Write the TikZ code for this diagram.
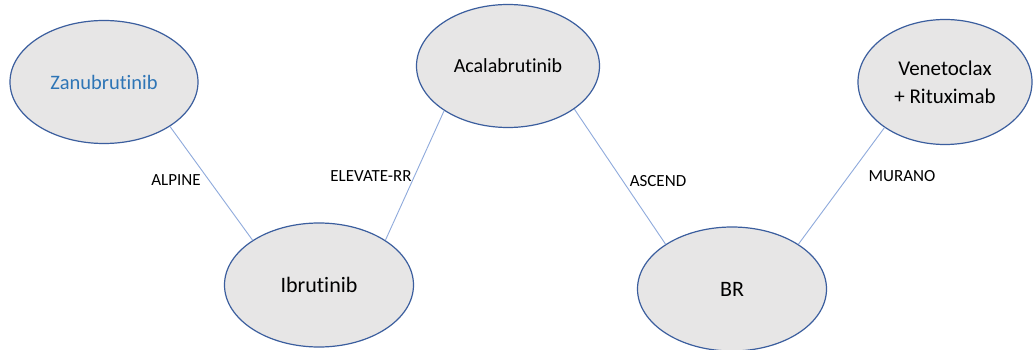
\documentclass[tikz,border=0pt]{standalone}
\usepackage{fontspec}
\setmainfont[Ligatures={NoCommon}]{Carlito}
\usetikzlibrary{shapes.geometric}
\definecolor{nodefill}{HTML}{E7E6E6}
\definecolor{nodeline}{HTML}{3B5E9E}
\definecolor{linkline}{HTML}{8FAADC}
\definecolor{drugblue}{HTML}{2E75B6}
\tikzset{
  drug/.style={ellipse, draw=nodeline, line width=1.2pt, fill=nodefill, inner sep=0pt,
    minimum width=188pt, minimum height=123pt, align=center},
  trial/.style={font=\fontsize{17}{20}\selectfont, inner sep=0pt},
  link/.style={draw=linkline, line width=0.9pt}
}
\begin{document}
\begin{tikzpicture}[x=1pt,y=-1pt]
\useasboundingbox[fill=white] (0,0) rectangle (1034,350);
% treatments
\node[drug, font=\fontsize{20.5}{24}\selectfont, text=drugblue] (zanu) at (104,82) {Zanubrutinib};
\node[drug, font=\fontsize{20}{24}\selectfont, minimum width=183pt] (acala) at (508,66) {Acalabrutinib};
\node[drug, font=\fontsize{21}{28}\selectfont, minimum width=174pt, minimum height=125pt] (vene) at (945,82) {Venetoclax\\+ Rituximab};
\node[drug, font=\fontsize{22}{26}\selectfont, minimum width=189pt, minimum height=124pt] (ibru) at (319,285) {Ibrutinib};
\node[drug, font=\fontsize{22}{26}\selectfont, minimum width=189pt, minimum height=124pt] (br) at (732,289) {BR};
% trials
\draw[link] (zanu.-34) -- (ibru.146);
\draw[link] (acala.215) -- (ibru.34);
\draw[link] (acala.-33) -- (br.146);
\draw[link] (vene.217) -- (br.34);
\node[trial] (alpine) at (176,180) {ALPINE};
\node[trial] (elevate) at (371,176) {ELEVATE-RR};
\node[trial] (ascend) at (658,181) {ASCEND};
\node[trial] (murano) at (902,176) {MURANO};
\end{tikzpicture}
\end{document}
